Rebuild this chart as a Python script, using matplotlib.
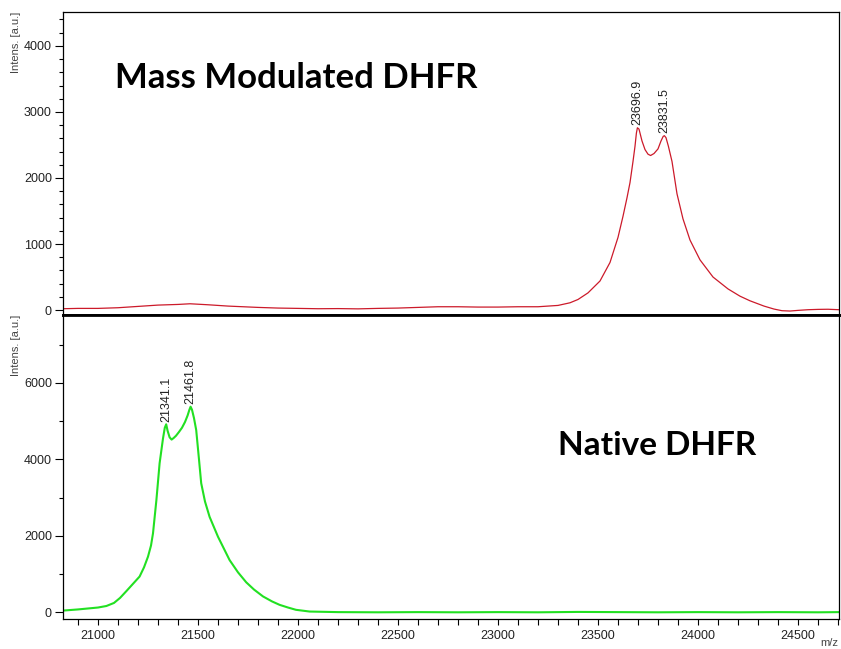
import numpy as np
import matplotlib.pyplot as plt
from matplotlib.ticker import MultipleLocator

# Mass modulated DHFR spectrum (top panel)
top_mz = [20825, 20900, 21000, 21100, 21200, 21300, 21400, 21460, 21550, 21650,
          21800, 21900, 22000, 22100, 22200, 22300, 22400, 22500, 22600, 22700,
          22800, 22900, 23000, 23100, 23200, 23300, 23360, 23400, 23450, 23510,
          23560, 23600, 23625, 23645, 23660, 23675, 23685, 23692, 23697, 23705,
          23720, 23735, 23750, 23763, 23780, 23800, 23815, 23826, 23832, 23840,
          23852, 23870, 23895, 23925, 23960, 24010, 24075, 24150, 24210, 24260,
          24330, 24380, 24420, 24460, 24500, 24550, 24600, 24650, 24705]
top_int = [20, 25, 25, 35, 55, 75, 85, 95, 80, 60,
           40, 30, 25, 20, 22, 18, 25, 30, 40, 50,
           50, 45, 45, 50, 50, 70, 110, 160, 260, 440,
           720, 1100, 1420, 1700, 1930, 2250, 2480, 2680, 2760, 2740,
           2560, 2430, 2360, 2340, 2370, 2440, 2560, 2630, 2640, 2610,
           2480, 2250, 1760, 1380, 1060, 760, 500, 320, 210, 140,
           60, 15, -10, -15, -5, 5, 10, 12, 5]

# Native DHFR spectrum (bottom panel)
bot_mz = [20825, 20900, 21000, 21042, 21080, 21110, 21142, 21175, 21208, 21230,
          21250, 21265, 21275, 21292, 21308, 21325, 21334, 21341, 21348, 21358,
          21368, 21378, 21390, 21405, 21420, 21435, 21448, 21457, 21463, 21470,
          21480, 21491, 21505, 21516, 21535, 21558, 21600, 21658, 21700, 21741,
          21780, 21825, 21870, 21908, 21950, 21990, 22058, 22200, 22400, 22600,
          22800, 23000, 23200, 23400, 23600, 23800, 24000, 24200, 24400, 24600,
          24705]
bot_int = [50, 80, 130, 170, 250, 380, 560, 750, 940, 1180,
           1460, 1750, 2070, 2940, 3900, 4550, 4830, 4920, 4750, 4580,
           4520, 4560, 4620, 4720, 4830, 4980, 5150, 5300, 5380, 5300,
           5080, 4770, 4000, 3380, 2900, 2500, 1980, 1370, 1050, 790,
           600, 420, 290, 200, 130, 70, 25, 10, 5, 10,
           5, 10, 5, 15, 10, 5, 10, 5, 10, 5,
           10]

top_peaks = [(23696.9, 2760), (23831.5, 2640)]
bot_peaks = [(21341.1, 4920), (21461.8, 5380)]

plt.rcParams['font.family'] = ['Liberation Sans', 'DejaVu Sans']

W, H = 841, 649
fig = plt.figure(figsize=(W / 100, H / 100), dpi=100)
ax_top = fig.add_axes([63 / W, 1 - 315 / H, 776 / W, 303 / H])
ax_bot = fig.add_axes([63 / W, 1 - 619 / H, 776 / W, 304 / H])

ax_top.plot(top_mz, top_int, color='#cc1a2a', lw=0.9)
ax_bot.plot(bot_mz, bot_int, color='#22e022', lw=1.5)

for ax in (ax_top, ax_bot):
    ax.set_xlim(20825, 24705)
    for s in ax.spines.values():
        s.set_color('black')
        s.set_linewidth(0.9)
    ax.tick_params(axis='y', which='major', length=6, width=0.8, labelsize=9,
                   labelcolor='#222222', pad=2)
    ax.tick_params(axis='y', which='minor', length=3, width=0.8)
    ax.tick_params(axis='y', right=False)

ax_top.set_ylim(-75, 4513)
ax_top.yaxis.set_major_locator(MultipleLocator(1000))
ax_top.yaxis.set_minor_locator(MultipleLocator(200))
ax_top.tick_params(axis='x', which='both', bottom=False, labelbottom=False)
ax_top.spines['bottom'].set_linewidth(2)

ax_bot.set_ylim(-170, 7777)
ax_bot.yaxis.set_major_locator(MultipleLocator(2000))
ax_bot.yaxis.set_minor_locator(MultipleLocator(1000))
ax_bot.spines['top'].set_linewidth(2)
ax_bot.xaxis.set_major_locator(MultipleLocator(500))
ax_bot.xaxis.set_minor_locator(MultipleLocator(100))
ax_bot.tick_params(axis='x', which='major', length=4, width=0.8, labelsize=9,
                   labelcolor='#222222', pad=4)
ax_bot.tick_params(axis='x', which='minor', length=4, width=0.8)

# peak labels
for ax, peaks in ((ax_top, top_peaks), (ax_bot, bot_peaks)):
    for mz, inten in peaks:
        ax.annotate(f'{mz:.1f}', (mz, inten), xytext=(0, 2), textcoords='offset points',
                    rotation=90, ha='center', va='bottom', fontsize=9, color='#222222')

ax_top.text(21083, 3366, 'Mass Modulated DHFR', fontsize=25, fontweight='bold',
            family='Lato', va='baseline', ha='left')
ax_bot.text(23298, 4117, 'Native DHFR', fontsize=24, fontweight='bold',
            family='Lato', va='baseline', ha='left')

fig.text(16 / W, 1 - 12 / H, 'Intens. [a.u.]', rotation=90, ha='center', va='top',
         fontsize=8, color='#444444')
fig.text(16 / W, 1 - 315 / H, 'Intens. [a.u.]', rotation=90, ha='center', va='top',
         fontsize=8, color='#444444')
fig.text(829 / W, 1 - 643 / H, 'm/z', ha='center', va='center', fontsize=8, color='#444444')

fig.savefig('out.png', dpi=100)
